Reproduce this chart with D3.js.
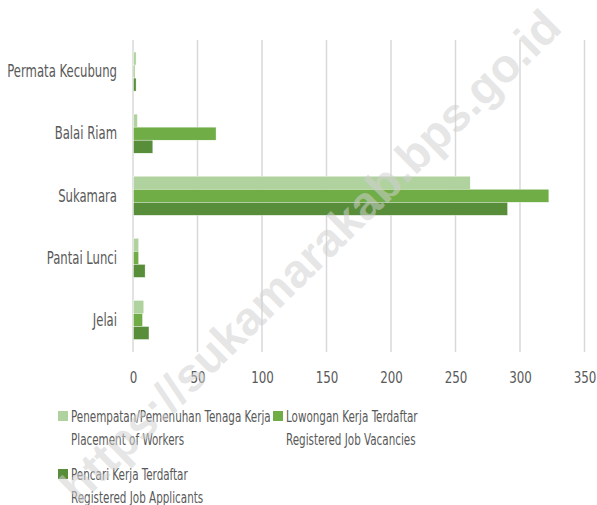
<!DOCTYPE html>
<html>
<head>
<meta charset="utf-8">
<script src="https://cdn.jsdelivr.net/npm/d3@7"></script>
<style>
  html, body { margin: 0; padding: 0; background: #fff; }
  svg { display: block; }
  text { font-family: "DejaVu Sans Condensed", "Liberation Sans Narrow", sans-serif; fill: #595959; }
</style>
</head>
<body>
<svg id="chart" width="597" height="505"></svg>
<script>
const categories = ["Permata Kecubung", "Balai Riam", "Sukamara", "Pantai Lunci", "Jelai"];
const placement = [2, 3, 261, 4, 8];
const vacancies = [1, 64, 322, 4, 7];
const applicants = [2, 15, 290, 9, 12];
const seriesNames = [
  ["Penempatan/Pemenuhan Tenaga Kerja", "Placement of Workers"],
  ["Lowongan Kerja Terdaftar", "Registered Job Vacancies"],
  ["Pencari Kerja Terdaftar", "Registered Job Applicants"]
];
const xTicks = [0, 50, 100, 150, 200, 250, 300, 350];
const colors = ["#b0d29e", "#70ad47", "#588e3a"];

const series = [placement, vacancies, applicants];
const svg = d3.select("#chart");

const x = d3.scaleLinear().domain([0, 350]).range([133, 584.5]);
const y = d3.scaleBand().domain(categories).range([40.5, 351]).paddingInner(0.37).paddingOuter(0.185);
const yInner = d3.scaleBand().domain(d3.range(series.length)).range([0, y.bandwidth()]);

// gridlines
svg.append("g").selectAll("line").data(xTicks).join("line")
  .attr("x1", d => x(d)).attr("x2", d => x(d))
  .attr("y1", 40).attr("y2", 352)
  .attr("stroke", "#d9d9d9").attr("stroke-width", 1.5);

// bars
const groups = svg.append("g").selectAll("g").data(categories).join("g")
  .attr("transform", d => `translate(0,${y(d)})`);
groups.selectAll("rect").data((c, i) => series.map((s, k) => ({k, v: s[i]}))).join("rect")
  .attr("x", x(0) + 0.5)
  .attr("y", d => yInner(d.k))
  .attr("width", d => x(d.v) - x(0))
  .attr("height", yInner.bandwidth())
  .attr("fill", d => colors[d.k])
  .attr("stroke", "#fff").attr("stroke-width", 0.4);

// x axis labels
const xAxis = d3.axisBottom(x).tickValues(xTicks).tickSize(0).tickPadding(0);
const gx = svg.append("g").attr("transform", "translate(0,371)").call(xAxis);
gx.select(".domain").remove();
gx.selectAll("text").style("font-size", "16.5px").style("font-family", null)
  .attr("fill", "#595959").attr("dy", "0.71em").attr("transform", "scale(0.8,1)");

// y axis labels
const yAxis = d3.axisLeft(y).tickSize(0).tickPadding(0);
const gy = svg.append("g").attr("transform", "translate(117,0)").call(yAxis);
gy.select(".domain").remove();
gy.selectAll("text").style("font-size", "18px").style("font-family", null)
  .attr("fill", "#595959").attr("transform", "scale(0.72,1)");

// legend
const legendPos = [[58, 416], [273, 416], [58, 474]];
const lg = svg.append("g").selectAll("g").data(seriesNames).join("g")
  .attr("transform", (d, i) => `translate(${legendPos[i][0]},${legendPos[i][1]})`);
lg.append("rect").attr("x", 0).attr("y", -5).attr("width", 10).attr("height", 10)
  .attr("fill", (d, i) => colors[i]);
const lt = lg.append("g").attr("transform", "translate(13,0) scale(0.7,1)");
lt.append("text").attr("x", 0).attr("y", 0).attr("dy", "0.35em").style("font-size", "16.5px").text(d => d[0]);
lt.append("text").attr("x", 0).attr("y", 23).attr("dy", "0.35em").style("font-size", "16.5px").text(d => d[1]);

// watermark
svg.append("text")
  .attr("transform", "translate(310,256) rotate(-44.5)")
  .attr("text-anchor", "middle").attr("dy", "0.35em")
  .style("font-family", "'Liberation Sans', Arial, sans-serif")
  .style("font-weight", "bold").style("font-size", "47px")
  .style("fill", "#d0d0d0").style("fill-opacity", 0.55)
  .text("https://sukamarakab.bps.go.id");
</script>
</body>
</html>
